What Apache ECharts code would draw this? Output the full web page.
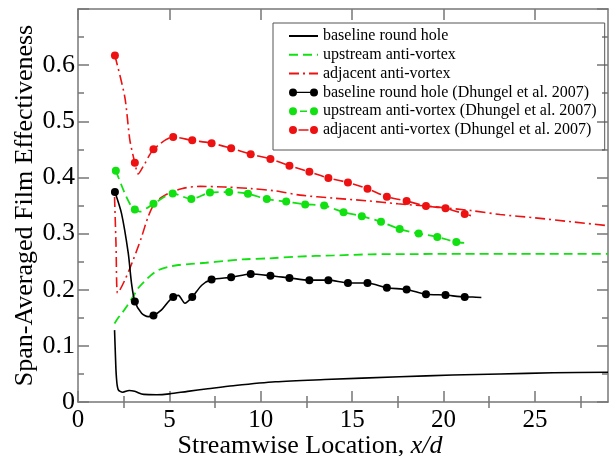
<!DOCTYPE html>
<html>
<head>
<meta charset="utf-8">
<script src="https://cdn.jsdelivr.net/npm/echarts@6/dist/echarts.min.js"></script>
<style>
html, body { margin: 0; padding: 0; background: #fff; }
#chart { width: 609px; height: 456px; }
</style>
</head>
<body>
<div id="chart"></div>
<script>
// axis ticks
const xMajor = [0, 5, 10, 15, 20, 25];
const xMinor = [2.5, 7.5, 12.5, 17.5, 22.5, 27.5];

// CFD curves
const cfdBaseX = [2.0, 2.05, 2.1, 2.2, 2.45, 2.8, 3.1, 3.6, 4.3, 5.0, 6.0, 7.1, 8.5, 10.8, 13.5, 17.6, 20.5, 23.1, 26.0, 29.0];
const cfdBaseY = [0.128, 0.081, 0.045, 0.022, 0.0175, 0.0205, 0.019, 0.0135, 0.013, 0.0145, 0.019, 0.0235, 0.029, 0.036, 0.040, 0.045, 0.048, 0.050, 0.052, 0.053];

const cfdUpX = [2.0, 2.2, 2.4, 2.7, 3.0, 3.3, 3.7, 4.0, 4.4, 5.0, 5.5, 6.2, 7.0, 8.0, 9.0, 10.5, 12.0, 14.0, 16.0, 18.5, 21.0, 24.0, 27.0, 29.0];
const cfdUpY = [0.140, 0.150, 0.158, 0.172, 0.187, 0.203, 0.217, 0.226, 0.235, 0.241, 0.244, 0.246, 0.248, 0.251, 0.254, 0.256, 0.259, 0.261, 0.263, 0.2635, 0.264, 0.264, 0.264, 0.264];

const cfdAdjX = [2.0, 2.08, 2.16, 2.3, 2.56, 2.8, 3.02, 3.25, 3.48, 3.84, 4.2, 4.76, 5.67, 6.7, 8.0, 9.5, 10.8, 12.15, 14.0, 15.8, 17.5, 19.5, 21.5, 23.1, 25.0, 27.0, 29.0];
const cfdAdjY = [0.365, 0.28, 0.194, 0.200, 0.217, 0.235, 0.253, 0.273, 0.294, 0.330, 0.354, 0.3685, 0.380, 0.384, 0.383, 0.380, 0.376, 0.3685, 0.363, 0.3584, 0.353, 0.3477, 0.341, 0.334, 0.328, 0.321, 0.314];

// Dhungel et al. 2007 measurements (markers)
const expBaseX = [2.02, 3.11, 4.13, 5.21, 6.25, 7.31, 8.38, 9.45, 10.53, 11.57, 12.66, 13.70, 14.77, 15.84, 16.90, 17.98, 19.04, 20.11, 21.16];
const expBaseY = [0.374, 0.179, 0.154, 0.187, 0.187, 0.218, 0.222, 0.228, 0.225, 0.221, 0.217, 0.217, 0.212, 0.212, 0.2035, 0.2005, 0.192, 0.1905, 0.187];

const expUpX = [2.07, 3.11, 4.13, 5.18, 6.2, 7.22, 8.27, 9.3, 10.33, 11.39, 12.43, 13.47, 14.53, 15.53, 16.58, 17.6, 18.64, 19.66, 20.7];
const expUpY = [0.412, 0.343, 0.353, 0.3715, 0.3614, 0.373, 0.374, 0.371, 0.3614, 0.357, 0.352, 0.350, 0.338, 0.331, 0.321, 0.308, 0.300, 0.294, 0.285];

const expAdjX = [2.02, 3.11, 4.13, 5.21, 6.25, 7.31, 8.38, 9.45, 10.53, 11.57, 12.66, 13.70, 14.77, 15.84, 16.90, 17.98, 19.04, 20.11, 21.16];
const expAdjY = [0.617, 0.426, 0.450, 0.472, 0.466, 0.461, 0.452, 0.4415, 0.433, 0.421, 0.410, 0.399, 0.391, 0.380, 0.3655, 0.358, 0.349, 0.345, 0.335];

// extra points of the measured traces between markers (no symbol)
const traceBaseX = [2.38, 2.75, 2.93, 3.48, 3.84, 4.57, 4.94, 5.49, 5.85, 6.77, 21.6, 22.07];
const traceBaseY = [0.336, 0.265, 0.211, 0.158, 0.152, 0.164, 0.1786, 0.190, 0.176, 0.208, 0.187, 0.186];
const traceUpX = [2.56, 2.93, 3.39, 3.75, 21.36];
const traceUpY = [0.3715, 0.3477, 0.339, 0.345, 0.283];
const traceAdjX = [2.56, 2.84, 3.29, 3.66, 21.5];
const traceAdjY = [0.5435, 0.466, 0.406, 0.425, 0.332];

const serif = '"Liberation Serif", "Times New Roman", serif';
const GRAY = '#777';
const GREEN = '#11e011';
const RED = '#ee1111';

// legend icons for the measured series: dot - line - dot
const DOT_L = 'M0,4 A4,4 0 1,1 8,4 A4,4 0 1,1 0,4 Z ';
const DOT_R = 'M21,4 A4,4 0 1,1 29,4 A4,4 0 1,1 21,4 Z ';
const ICON_SOLID = 'path://' + DOT_L + 'M7,3.3 L22,3.3 L22,4.7 L7,4.7 Z ' + DOT_R;
const ICON_DASH = 'path://' + DOT_L + 'M11,3.3 L18,3.3 L18,4.7 L11,4.7 Z ' + DOT_R;
const ICON_DASHDOT = 'path://' + DOT_L + 'M9.5,3.3 L19.5,3.3 L19.5,4.7 L9.5,4.7 Z ' + DOT_R;
const NO_DOT = { color: 'rgba(0,0,0,0)' };

function pairs(xs, ys) {
    return xs.map((x, i) => [x, ys[i]]);
}

function withTrace(mx, my, tx, ty) {
    const pts = mx.map((x, i) => ({ value: [x, my[i]] }));
    tx.forEach((x, i) => pts.push({ value: [x, ty[i]], symbol: 'none' }));
    pts.sort((a, b) => a.value[0] - b.value[0]);
    return pts;
}

function frameX(pos, values, len, extra) {
    return Object.assign({
        type: 'value', min: 0, max: 29, position: pos,
        axisLine: { show: true, onZero: false, lineStyle: { color: GRAY, width: 1.5 } },
        axisTick: { show: true, inside: true, length: len, customValues: values, lineStyle: { color: GRAY, width: 1.5 } },
        axisLabel: { show: false },
        splitLine: { show: false }
    }, extra || {});
}

function frameY(pos, extra) {
    return Object.assign({
        type: 'value', min: 0, max: 0.7, interval: 0.1, position: pos,
        axisLine: { show: true, onZero: false, lineStyle: { color: GRAY, width: 1.5 } },
        axisTick: { show: true, inside: true, length: 11, lineStyle: { color: GRAY, width: 1.5 } },
        minorTick: { show: true, splitNumber: 2, length: 6, lineStyle: { color: GRAY, width: 1.5 } },
        axisLabel: { show: false },
        splitLine: { show: false }
    }, extra || {});
}

const chart = echarts.init(document.getElementById('chart'));

const option = {
    animation: false,
    backgroundColor: '#fff',
    grid: { left: 78, right: 1, top: 9, bottom: 54, outerBoundsMode: 'none' },
    legend: {
        orient: 'vertical',
        left: 273,
        top: 23,
        padding: [5, 8, 12, 15],
        borderColor: '#555',
        borderWidth: 1,
        itemWidth: 29,
        itemHeight: 14,
        itemGap: 2.8,
        textStyle: { fontFamily: serif, fontSize: 16, color: '#000' },
        data: [
            { name: 'baseline round hole', itemStyle: NO_DOT },
            { name: 'upstream anti-vortex', itemStyle: NO_DOT },
            { name: 'adjacent anti-vortex', itemStyle: NO_DOT },
            { name: 'baseline round hole (Dhungel et al. 2007)', icon: ICON_SOLID },
            { name: 'upstream anti-vortex (Dhungel et al. 2007)', icon: ICON_DASH },
            { name: 'adjacent anti-vortex (Dhungel et al. 2007)', icon: ICON_DASHDOT }
        ]
    },
    xAxis: [
        frameX('bottom', xMajor, 11, {
            axisLabel: { show: true, customValues: xMajor, color: '#000', fontFamily: serif, fontSize: 25, margin: 6 },
            name: 'Streamwise Location, {i|x/d}',
            nameLocation: 'middle',
            nameGap: 31,
            nameMoveOverlap: false,
            nameTextStyle: {
                fontFamily: serif, fontSize: 26, color: '#000',
                padding: [0, 66, 0, 0],
                rich: { i: { fontFamily: serif, fontSize: 26, fontStyle: 'italic', color: '#000' } }
            }
        }),
        frameX('bottom', xMinor, 6, { axisLine: { show: false } }),
        frameX('top', xMajor, 11),
        frameX('top', xMinor, 6, { axisLine: { show: false } })
    ],
    yAxis: [
        frameY('left', {
            axisLabel: { show: true, showMaxLabel: false, color: '#000', fontFamily: serif, fontSize: 26, margin: 3 },
            name: 'Span-Averaged Film Effectiveness',
            nameLocation: 'middle',
            nameGap: 40,
            nameMoveOverlap: false,
            nameTextStyle: { fontFamily: serif, fontSize: 26, color: '#000' }
        }),
        frameY('right')
    ],
    series: [
        {
            name: 'baseline round hole', type: 'line', smooth: 0.3, symbol: 'none',
            lineStyle: { color: '#000', width: 1.6 }, itemStyle: { color: '#000' },
            data: pairs(cfdBaseX, cfdBaseY)
        },
        {
            name: 'upstream anti-vortex', type: 'line', smooth: 0.3, symbol: 'none',
            lineStyle: { color: GREEN, width: 1.8, type: [9, 5] }, itemStyle: { color: GREEN },
            data: pairs(cfdUpX, cfdUpY)
        },
        {
            name: 'adjacent anti-vortex', type: 'line', smooth: 0.3, symbol: 'none',
            lineStyle: { color: RED, width: 1.6, type: [10, 4, 2, 4] }, itemStyle: { color: RED },
            data: pairs(cfdAdjX, cfdAdjY)
        },
        {
            name: 'baseline round hole (Dhungel et al. 2007)', type: 'line', smooth: 0.25,
            symbol: 'circle', symbolSize: 8,
            lineStyle: { color: '#000', width: 1.6 }, itemStyle: { color: '#000' },
            data: withTrace(expBaseX, expBaseY, traceBaseX, traceBaseY)
        },
        {
            name: 'upstream anti-vortex (Dhungel et al. 2007)', type: 'line', smooth: 0.25,
            symbol: 'circle', symbolSize: 8,
            lineStyle: { color: GREEN, width: 1.8, type: [9, 5] }, itemStyle: { color: GREEN },
            data: withTrace(expUpX, expUpY, traceUpX, traceUpY)
        },
        {
            name: 'adjacent anti-vortex (Dhungel et al. 2007)', type: 'line', smooth: 0.25,
            symbol: 'circle', symbolSize: 8,
            lineStyle: { color: RED, width: 1.6, type: [10, 4, 2, 4] }, itemStyle: { color: RED },
            data: withTrace(expAdjX, expAdjY, traceAdjX, traceAdjY)
        }
    ]
};

chart.setOption(option);
</script>
</body>
</html>
